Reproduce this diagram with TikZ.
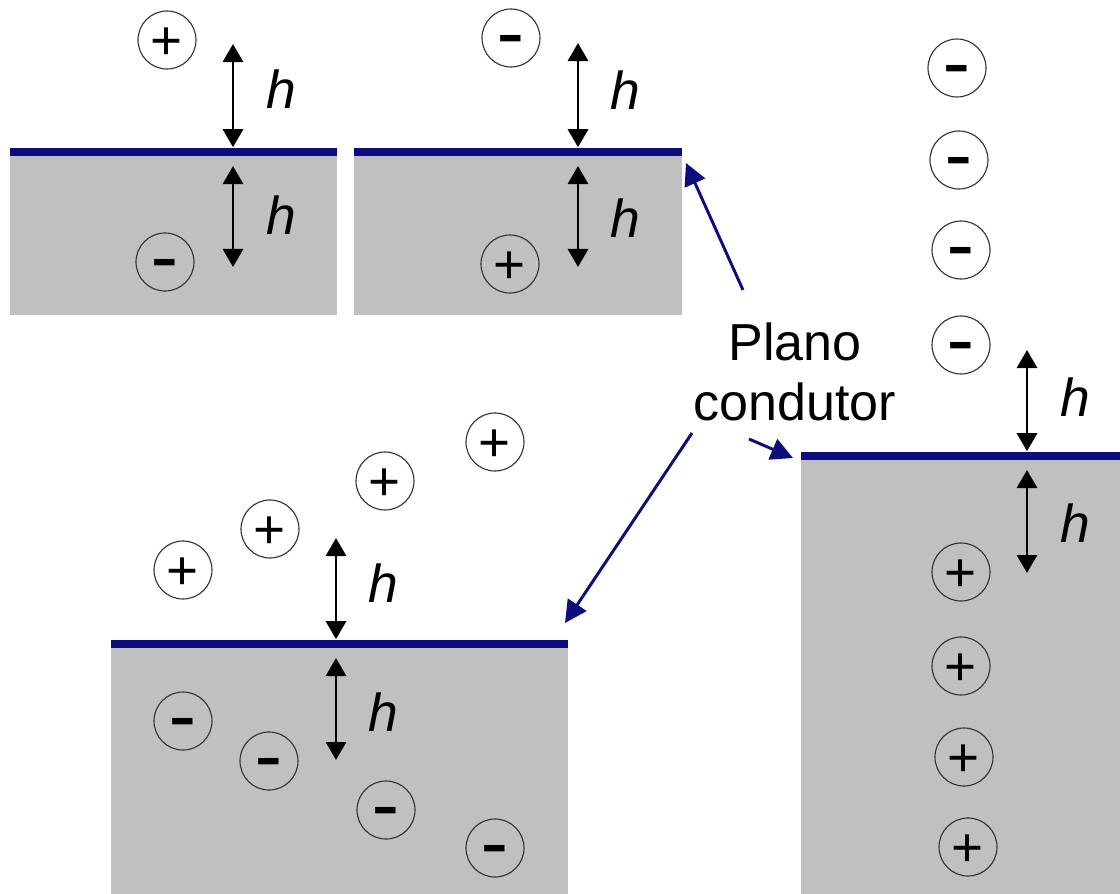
\documentclass[tikz,border=0pt]{standalone}
\usepackage{fontspec}
\usepackage{graphicx}
\setmainfont{Liberation Sans}
\usetikzlibrary{arrows.meta}
\definecolor{planoblue}{RGB}{12,12,125}
\definecolor{metalgray}{RGB}{192,192,192}

\begin{document}
\begin{tikzpicture}[x=0.025cm, y=-0.025cm,
    every node/.style={font=\fontsize{37}{43}\selectfont},
    metal/.style={fill=metalgray, draw=none},
    plane/.style={draw=planoblue, line width=5pt},
    poscharge/.style={draw=black!80, line width=0.8pt, circle, minimum size=1.45cm, inner sep=0pt, font=\fontsize{39}{40}\selectfont, text height=27.7pt, text depth=0pt},
    negcharge/.style={poscharge, font=\fontsize{38}{40}\selectfont\bfseries, text height=20.5pt},
    dist/.style={{Triangle[length=0.45cm, width=0.5cm]}-{Triangle[length=0.45cm, width=0.5cm]}, line width=2.1pt},
    pointer/.style={-{Triangle[length=0.55cm, width=0.55cm]}, draw=planoblue, line width=2.1pt},
    hlabel/.style={font=\fontsize{38}{40}\selectfont\itshape}
]
    \useasboundingbox (0,0) rectangle (1120,894);

    % Plano 1
    \fill[metal] (10,152) rectangle (337,315);
    \draw[plane] (10,152) -- (337,152);
    \node (q1p) [poscharge] at (167,40) {+};
    \node (q1n) [negcharge] at (165,262) {\scalebox{1.5}[1]{-}};
    \coordinate (s1) at (233,152);
    \coordinate (t1) at (233,44);
    \coordinate (b1) at (233,267);
    \draw[dist, shorten >=0.12cm] (t1) -- (s1);
    \draw[dist, shorten <=0.35cm] (s1) -- (b1);
    \node (h1a) [hlabel] at (281,89) {h};
    \node (h1b) [hlabel] at (281,215) {h};

    % Plano 2
    \fill[metal] (354,152) rectangle (682,315);
    \draw[plane] (354,152) -- (682,152);
    \node (q2n) [negcharge] at (511,38) {\scalebox{1.5}[1]{-}};
    \node (q2p) [poscharge] at (510,264) {+};
    \coordinate (s2) at (578,152);
    \coordinate (t2) at (578,43);
    \coordinate (b2) at (578,267);
    \draw[dist, shorten >=0.12cm] (t2) -- (s2);
    \draw[dist, shorten <=0.35cm] (s2) -- (b2);
    \node (h2a) [hlabel] at (625,90) {h};
    \node (h2b) [hlabel] at (625,218) {h};

    % Plano 3
    \fill[metal] (111,644) rectangle (568,894);
    \draw[plane] (111,644) -- (568,644);
    \node (q3p1) [poscharge] at (183,570) {+};
    \node (q3p2) [poscharge] at (270,529) {+};
    \node (q3p3) [poscharge] at (385,481) {+};
    \node (q3p4) [poscharge] at (495,442) {+};
    \node (q3n1) [negcharge] at (183,721) {\scalebox{1.5}[1]{-}};
    \node (q3n2) [negcharge] at (269,761) {\scalebox{1.5}[1]{-}};
    \node (q3n3) [negcharge] at (386,810) {\scalebox{1.5}[1]{-}};
    \node (q3n4) [negcharge] at (495,848) {\scalebox{1.5}[1]{-}};
    \coordinate (s3) at (336,644);
    \coordinate (t3) at (336,538);
    \coordinate (b3) at (336,760);
    \draw[dist, shorten >=0.12cm] (t3) -- (s3);
    \draw[dist, shorten <=0.35cm] (s3) -- (b3);
    \node (h3a) [hlabel] at (383,583) {h};
    \node (h3b) [hlabel] at (383,712) {h};

    % Plano 4
    \fill[metal] (801,456) rectangle (1120,894);
    \draw[plane] (801,456) -- (1120,456);
    \node (q4n1) [negcharge] at (957,68) {\scalebox{1.5}[1]{-}};
    \node (q4n2) [negcharge] at (959,160) {\scalebox{1.5}[1]{-}};
    \node (q4n3) [negcharge] at (961,250) {\scalebox{1.5}[1]{-}};
    \node (q4n4) [negcharge] at (961,345) {\scalebox{1.5}[1]{-}};
    \node (q4p1) [poscharge] at (961,572) {+};
    \node (q4p2) [poscharge] at (961,666) {+};
    \node (q4p3) [poscharge] at (964,757) {+};
    \node (q4p4) [poscharge] at (968,847) {+};
    \coordinate (s4) at (1027,456);
    \coordinate (t4) at (1027,350);
    \coordinate (b4) at (1027,573);
    \draw[dist, shorten >=0.12cm] (t4) -- (s4);
    \draw[dist, shorten <=0.35cm] (s4) -- (b4);
    \node (h4a) [hlabel] at (1075,397) {h};
    \node (h4b) [hlabel] at (1075,523) {h};

    % Label
    \node (plano) [align=center, inner sep=0pt] at (795,372) {Plano\\condutor};
    \coordinate (fromA) at (743,290);
    \coordinate (toA) at (686,163);
    \coordinate (fromB) at (692,433);
    \coordinate (toB) at (565,623);
    \coordinate (fromC) at (749,439);
    \coordinate (toC) at (793,458);
    \draw[pointer] (fromA) -- (toA);
    \draw[pointer] (fromB) -- (toB);
    \draw[pointer] (fromC) -- (toC);
\end{tikzpicture}
\end{document}
